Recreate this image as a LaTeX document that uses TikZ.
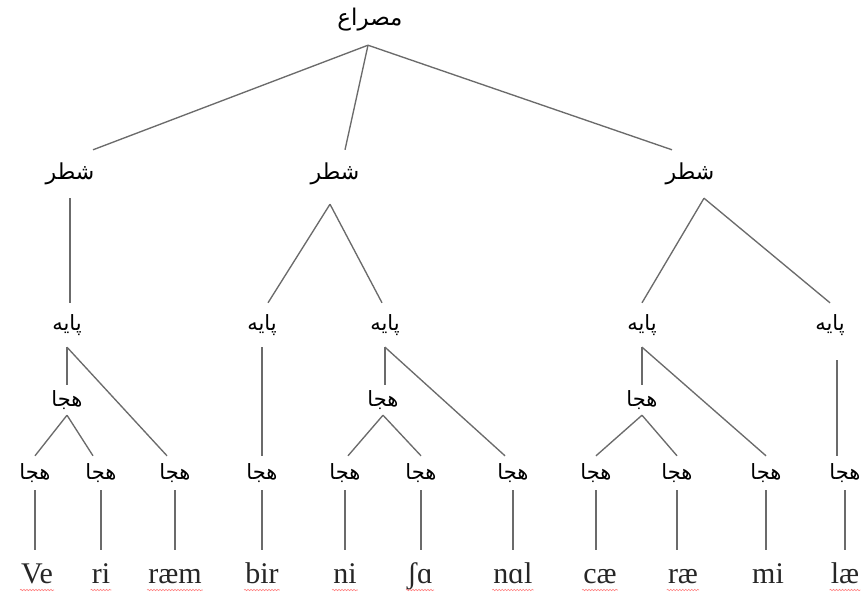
\documentclass[tikz,border=0pt]{standalone}
\usepackage{fontspec}
\setmainfont{Liberation Serif}
\newfontfamily\arabicfont[Script=Arabic]{DejaVu Sans}
\TeXXeTstate=1
\usetikzlibrary{decorations.pathmorphing}

\newcommand{\ar}[1]{\arabicfont\beginR #1\endR}

\begin{document}
\begin{tikzpicture}[x=1pt,y=-1pt,
  edge/.style={draw=black!58, line width=1.35pt},
  rootlab/.style={font=\fontsize{23}{26}\selectfont, inner sep=0pt, minimum height=50pt},
  shatr/.style={font=\fontsize{22}{24}\selectfont, inner sep=0pt, minimum height=48pt},
  paye/.style={font=\fontsize{21}{24}\selectfont, inner sep=0pt, minimum height=44pt},
  hejamid/.style={font=\fontsize{21}{24}\selectfont, inner sep=0pt, minimum height=30pt},
  hejalow/.style={font=\fontsize{21}{24}\selectfont, inner sep=0pt, minimum height=34pt},
  word/.style={font=\fontsize{30}{34}\selectfont, text=black!85, anchor=base,
    text height=19pt, text depth=5pt, inner xsep=1pt, inner ysep=0pt, outer ysep=14pt},
  squig/.style={draw=red!50, line width=0.6pt,
    decorate, decoration={snake, amplitude=0.7pt, segment length=3pt}}
]
\useasboundingbox (0,0) rectangle (865,598);

% root
\node[rootlab] (top) at (370,20) {\ar{مصراع}};

% hemistichs
\node[shatr] (s1) at (70,174)  {\ar{شطر}};
\node[shatr] (s2) at (335,174) {\ar{شطر}};
\node[shatr] (s3) at (690,174) {\ar{شطر}};

% feet
\node[paye] (p1) at (67,325)  {\ar{پایه}};
\node[paye] (p2) at (262,325) {\ar{پایه}};
\node[paye] (p3) at (385,325) {\ar{پایه}};
\node[paye] (p4) at (642,325) {\ar{پایه}};
\node[paye] (p5) at (830,325) {\ar{پایه}};

% intermediate syllables
\node[hejamid] (m1) at (67,400)  {\ar{هجا}};
\node[hejamid] (m2) at (383,400) {\ar{هجا}};
\node[hejamid] (m3) at (642,400) {\ar{هجا}};

% syllables
\foreach \i/\x in {1/35,2/101,3/175,4/262,5/345,6/421,7/513,8/596,9/677,10/766,11/845}
  \node[hejalow] (b\i) at (\x,473) {\ar{هجا}};

% transcribed syllables
\node[word] (w1)  at (37,583)  {Ve};
\node[word] (w2)  at (101,583) {ri};
\node[word] (w3)  at (175,583) {ræm};
\node[word] (w4)  at (262,583) {bir};
\node[word] (w5)  at (345,583) {ni};
\node[word] (w6)  at (420,583) {ʃɑ};
\node[word] (w7)  at (513,583) {nɑl};
\node[word] (w8)  at (600,583) {cæ};
\node[word] (w9)  at (683,583) {ræ};
\node[word] (w10) at (768,583) {mi};
\node[word] (w11) at (845,583) {læ};

% connectors
\draw[edge] ([xshift=-2pt]top.south) -- ([xshift=23pt]s1.north);
\draw[edge] ([xshift=-2pt]top.south) -- ([xshift=10pt]s2.north);
\draw[edge] ([xshift=-2pt]top.south) -- ([xshift=-18pt]s3.north);

\draw[edge] (s1.south) -- (s1.south |- p1.north);
\draw[edge] ([xshift=-5pt,yshift=-6pt]s2.south) -- ([xshift=6pt]p2.north);
\draw[edge] ([xshift=-5pt,yshift=-6pt]s2.south) -- ([xshift=-3pt]p3.north);
\draw[edge] ([xshift=14pt]s3.south) -- (p4.north);
\draw[edge] ([xshift=14pt]s3.south) -- (p5.north);

\draw[edge] (p1.south) -- (m1.north);
\draw[edge] (p1.south) -- ([xshift=-8pt]b3.north);
\draw[edge] (m1.south) -- (b1.north);
\draw[edge] (m1.south) -- ([xshift=-8pt]b2.north);

\draw[edge] (p2.south) -- (b2.north -| p2.south);
\draw[edge] (p3.south) -- (m2.north -| p3.south);
\draw[edge] (p3.south) -- ([xshift=-8pt]b7.north);
\draw[edge] (m2.south) -- ([xshift=3pt]b5.north);
\draw[edge] (m2.south) -- (b6.north);

\draw[edge] (p4.south) -- (m3.north);
\draw[edge] (p4.south) -- (b10.north);
\draw[edge] (m3.south) -- (b8.north);
\draw[edge] (m3.south) -- (b9.north);

\draw[edge] ([xshift=7pt,yshift=-13pt]p5.south) -- ([xshift=-8pt]b11.north);

\foreach \i in {1,...,11}
  \draw[edge] (b\i.south) -- (b\i.south |- w\i.north);

% spell-check underlines
\foreach \i in {1,2,3,4,5,6,7,8,9,11}
  \draw[squig] ([yshift=-7pt]w\i.base west) -- ([yshift=-7pt]w\i.base east);
\end{tikzpicture}
\end{document}
